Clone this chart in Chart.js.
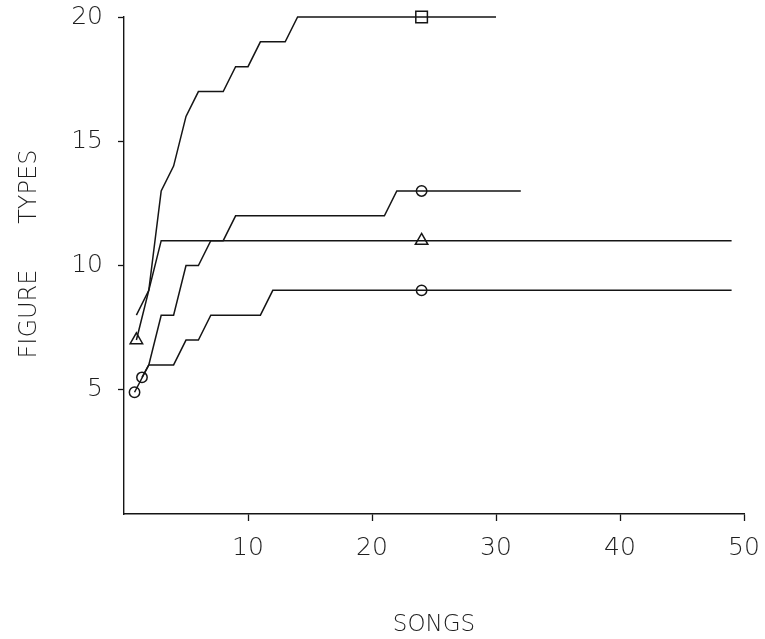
<!DOCTYPE html>
<html>
<head>
<meta charset="utf-8">
<script src="https://cdn.jsdelivr.net/npm/chart.js@4/dist/chart.umd.min.js"></script>
<style>
  html, body { margin: 0; padding: 0; background: #fff; }
  #wrap { width: 765px; height: 639px; position: relative; }
</style>
</head>
<body>
<div id="wrap"><canvas id="c"></canvas></div>
<script>
// ---- data ----
const xTicks = [10, 20, 30, 40, 50];
const yTicks = [5, 10, 15, 20];

// square series (reaches 20 types)
const squareSongs = [1, 2, 3, 4, 5, 6, 8, 9, 10, 11, 13, 14, 24, 30];
const squareTypes = [8, 9, 13, 14, 16, 17, 17, 18, 18, 19, 19, 20, 20, 20];

// hexagon series (reaches 13 types)
const hexSongs = [1.45, 2, 3, 4, 5, 6, 7, 8, 9, 21, 22, 24, 32];
const hexTypes = [5.5, 6, 8, 8, 10, 10, 11, 11, 12, 12, 13, 13, 13];

// triangle series (reaches 11 types)
const triSongs = [1, 3, 24, 49];
const triTypes = [7, 11, 11, 11];

// circle series (reaches 9 types)
const circSongs = [0.85, 2, 4, 5, 6, 7, 11, 12, 24, 49];
const circTypes = [4.9, 6, 6, 7, 7, 8, 8, 9, 9, 9];

const xTitle = 'SONGS';
const yTitle = '   FIGURE      TYPES';

// ---- chart ----
const INK = '#151515';
const FONT = "'DejaVu Sans', 'Noto Sans', sans-serif";
const TXT = '#1e1e1e';

function pts(xs, ys) { return xs.map((x, i) => ({ x: x, y: ys[i] })); }

function markerRadii(xs, markIdx, r) {
  return xs.map((_, i) => markIdx.includes(i) ? r : 0);
}

function series(xs, ys, style, markIdx, r) {
  return {
    data: pts(xs, ys),
    borderColor: INK,
    borderWidth: 1.5,
    tension: 0,
    fill: false,
    pointStyle: style,
    pointRadius: markerRadii(xs, markIdx, r),
    pointHoverRadius: 0,
    pointBorderColor: INK,
    pointBackgroundColor: 'rgba(0,0,0,0)',
    pointBorderWidth: 1.5,
    clip: false
  };
}

new Chart(document.getElementById('c'), {
  type: 'line',
  data: {
    datasets: [
      series(squareSongs, squareTypes, 'rect', [squareSongs.indexOf(24)], 8.2),
      series(hexSongs, hexTypes, 'circle', [0, hexSongs.indexOf(24)], 5.2),
      series(triSongs, triTypes, 'triangle', [0, triSongs.indexOf(24)], 7.2),
      series(circSongs, circTypes, 'circle', [0, circSongs.indexOf(24)], 5.2)
    ]
  },
  options: {
    responsive: true,
    maintainAspectRatio: false,
    animation: false,
    events: [],
    layout: { padding: { top: 17, right: 21, left: 0, bottom: 0 } },
    plugins: { legend: { display: false }, tooltip: { enabled: false } },
    scales: {
      x: {
        type: 'linear',
        min: 0, max: 50,
        afterFit: (s) => { s.height = 125; s.paddingLeft = 0; s.paddingRight = 0; s.paddingTop = 0; s.paddingBottom = 0; },
        afterBuildTicks: (s) => { s.ticks = xTicks.map(v => ({ value: v })); },
        ticks: { color: TXT, font: { family: FONT, size: 25, weight: '200' }, padding: 12, maxRotation: 0 },
        grid: { display: true, drawOnChartArea: false, drawTicks: true, tickLength: 7, tickColor: INK, tickWidth: 1.3 },
        border: { display: true, color: INK, width: 1.4 },
        title: { display: true, text: xTitle, color: TXT, font: { family: FONT, size: 23, weight: '200' }, padding: { top: 0, bottom: 0 } }
      },
      y: {
        type: 'linear',
        min: 0, max: 20,
        afterFit: (s) => { s.width = 124; s.paddingLeft = 0; s.paddingRight = 0; s.paddingTop = 0; s.paddingBottom = 0; },
        afterBuildTicks: (s) => { s.ticks = yTicks.map(v => ({ value: v })); },
        ticks: { color: TXT, font: { family: FONT, size: 25, weight: '200' }, padding: 15 },
        grid: { display: true, drawOnChartArea: false, drawTicks: true, tickLength: 6, tickColor: INK, tickWidth: 1.3 },
        border: { display: true, color: INK, width: 1.4 },
        title: { display: true, text: yTitle, color: TXT, font: { family: FONT, size: 24, weight: '200' }, padding: { top: 15, bottom: 0 } }
      }
    }
  }
});
</script>
</body>
</html>
